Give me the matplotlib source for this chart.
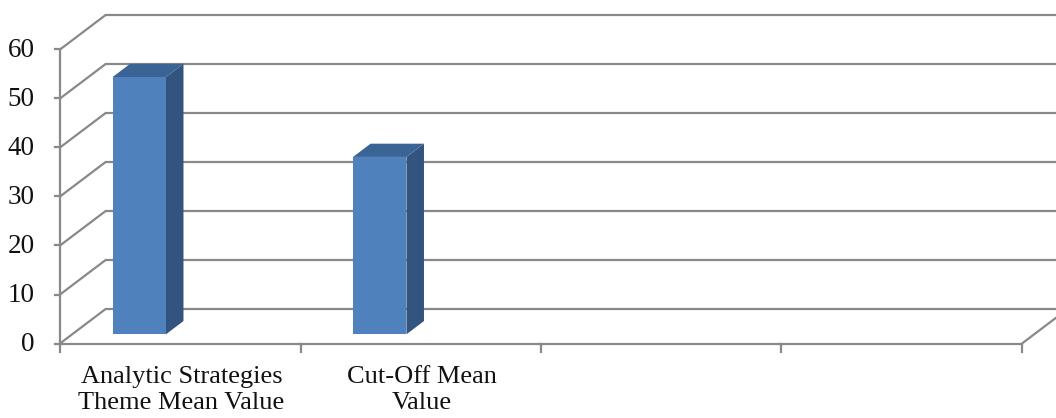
import matplotlib
matplotlib.use("Agg")
import matplotlib.pyplot as plt
from matplotlib.patches import Polygon

# Chart data
categories = ["Analytic Strategies\nTheme Mean Value", "Cut-Off Mean\nValue", "", ""]
values = [52.5, 36.2]
y_ticks = [0, 10, 20, 30, 40, 50, 60]

# Styling
plt.rcParams["font.family"] = ["Liberation Serif", "DejaVu Serif"]
grid_color = "#898989"
front_color = "#4F81BD"
top_color = "#3B6496"
side_color = "#33547E"

# Oblique depth vector (category units, value units)
depth_dx = 0.187
depth_dy = 6.94
bar_front, bar_back = 0.27, 0.66
bar_offset, bar_width = 0.168, 0.222

fig = plt.figure(figsize=(10.56, 4.18), dpi=100)
ax = fig.add_axes([0, 0, 1, 1])
ax.set_xlim(-60 / 240.5, 996 / 240.5)
ax.set_ylim(-74.5 / 4.9, 343.5 / 4.9)
ax.axis("off")

n_slots = len(categories)
lw = 1.6
x_far = n_slots + 0.5

# Back wall gridlines and side wall diagonals
for v in y_ticks:
    ax.plot([depth_dx, x_far], [v + depth_dy, v + depth_dy], color=grid_color, lw=lw, zorder=1,
            solid_capstyle="butt")
    ax.plot([0, depth_dx], [v, v + depth_dy], color=grid_color, lw=lw, zorder=1)
    ax.plot([-0.02, 0], [v, v], color=grid_color, lw=lw, zorder=1)
    ax.text(-0.105, v - 0.3, str(v), ha="right", va="center", fontsize=19.5, color="#111111")

# Front value axis and floor front edge
ax.plot([0, 0], [0, y_ticks[-1]], color=grid_color, lw=lw, zorder=2)
ax.plot([0, n_slots], [0, 0], color=grid_color, lw=lw, zorder=2)
ax.plot([n_slots, n_slots + depth_dx], [0, depth_dy], color=grid_color, lw=lw, zorder=2)
for i in range(n_slots + 1):
    ax.plot([i, i], [0, -1.7], color=grid_color, lw=lw, zorder=2)

# Category labels
for i, lab in enumerate(categories):
    if lab:
        ax.text(i + 0.505, -4.5, lab, ha="center", va="top", fontsize=19,
                linespacing=1.25, color="#111111")

# 3D-style columns
for i, v in enumerate(values):
    x0 = i + bar_offset
    x1 = x0 + bar_width
    fx, fy = bar_front * depth_dx, bar_front * depth_dy
    bx, by = bar_back * depth_dx, bar_back * depth_dy
    front = [(x0 + fx, fy), (x1 + fx, fy), (x1 + fx, v + fy), (x0 + fx, v + fy)]
    top = [(x0 + fx, v + fy), (x1 + fx, v + fy), (x1 + bx, v + by), (x0 + bx, v + by)]
    side = [(x1 + fx, fy), (x1 + bx, by), (x1 + bx, v + by), (x1 + fx, v + fy)]
    ax.add_patch(Polygon(side, closed=True, facecolor=side_color, edgecolor="none", zorder=5))
    ax.add_patch(Polygon(top, closed=True, facecolor=top_color, edgecolor="none", zorder=5))
    ax.add_patch(Polygon(front, closed=True, facecolor=front_color, edgecolor="none", zorder=6))

fig.savefig("out.png", dpi=100)
